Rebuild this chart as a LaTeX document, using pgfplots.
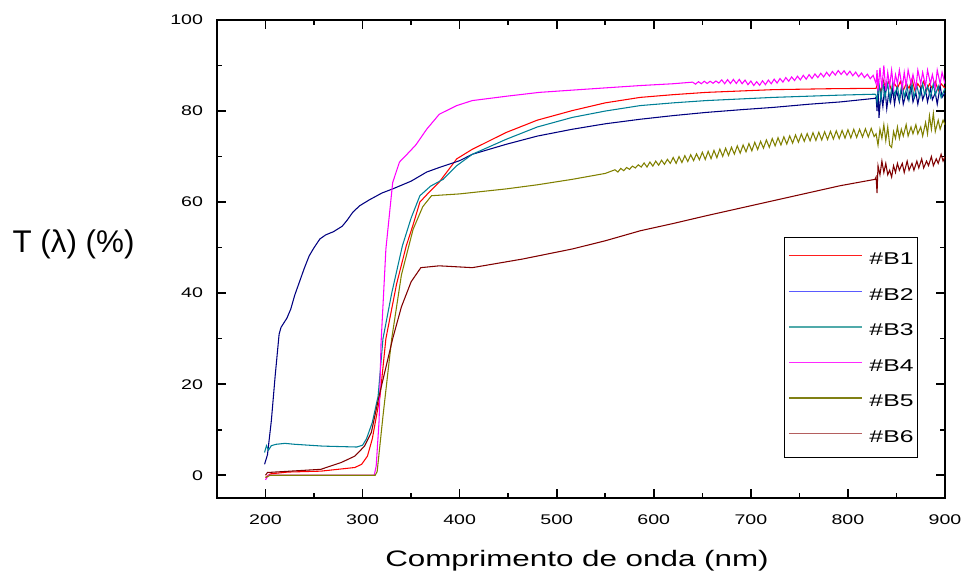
\documentclass[border=0pt]{standalone}
\usepackage{fontspec}
\setmainfont{Liberation Sans}
\newfontfamily\tickfont{Liberation Sans}[FakeStretch=1.4]
\newfontfamily\legfont{Liberation Sans}[FakeStretch=1.45]
\newfontfamily\xlabfont{Liberation Sans}[FakeStretch=1.4]
\usepackage{pgfplots}
\pgfplotsset{compat=1.18}
\definecolor{cB1}{RGB}{255,0,0}
\definecolor{cB2}{RGB}{0,0,128}
\definecolor{cB3}{RGB}{0,128,150}
\definecolor{cB4}{RGB}{255,0,255}
\definecolor{cB5}{RGB}{128,128,0}
\definecolor{cB6}{RGB}{128,0,0}
\definecolor{lBa}{RGB}{255,30,30}
\definecolor{lBb}{RGB}{90,90,255}
\definecolor{lBc}{RGB}{80,170,170}
\definecolor{lBd}{RGB}{255,40,255}
\definecolor{lBe}{RGB}{128,128,20}
\definecolor{lBf}{RGB}{180,95,95}
\begin{document}
\begin{tikzpicture}
\begin{axis}[
  at={(0,0)}, anchor=south west, scale only axis,
  width=546pt, height=358.5pt,
  xmin=150, xmax=900, ymin=-5, ymax=100,
  xtick={200,300,...,900}, ytick={0,20,...,100},
  minor x tick num=1, minor y tick num=1,
  tick align=inside, major tick length=6.5pt, minor tick length=3.5pt,
  axis line style={line width=1.2pt},
  tick style={black, line width=1.2pt},
  /pgf/number format/assume math mode=true,
  tick label style={font=\tickfont\fontsize{10.5}{12}\selectfont},
  xticklabel style={yshift=-9pt},
  yticklabel style={xshift=-7pt},
  xlabel={Comprimento de onda (nm)},
  xlabel style={font=\xlabfont\fontsize{16.8}{20}\selectfont, at={(axis description cs:0.4945,-0.1443)}, anchor=base},
  ylabel={T (λ) (\%)},
  ylabel style={font=\fontsize{23.5}{27}\selectfont, rotate=-90, at={(axis description cs:-0.197,0.531)}, anchor=center},
  legend style={at={(rel axis cs:0.963,0.546)}, anchor=north east, draw=black, line width=0.8pt,
    fill=white, inner xsep=3pt, inner ysep=11pt, row sep=17.5pt,
    font=\legfont\fontsize{12.8}{14}\selectfont,
    nodes={inner sep=0pt, text height=9.2pt, text depth=0pt},
    /tikz/every odd column/.append style={column sep=5pt}},
  legend cell align=left,
  legend image code/.code={\draw[line width=1pt, #1] (0pt,2pt) -- (55pt,2pt);},
  every axis plot/.append style={line width=0.8pt},
]
% B1 (red)
\addplot[cB1, forget plot] coordinates {
(200,-0.5)(205,0.3)(223,0.7)(257,0.9)(292,1.7)(299,2.4)(305,4.2)(310,8)(318,17.4)(324,30)(335,42)(345,50.4)(352,55)(359,60)(370,62.5)(379,64.4)(397,69.5)(413,71.6)(448,75.3)(480,78)(516,80.1)(550,81.8)(586,83)(620,83.6)(654,84.1)(723,84.7)(780,84.9)(828,85)
(829,85)(831,86.5)(834,84)(836,87)(839,85)(842,86.5)(845,84.5)(848,86)(851,85)(854,86.5)(857,84.5)(860,86)(863,85)(866,87)(869,84.5)(872,86)(875,85)(878,86.5)(881,84.5)(884,86)(887,85)(890,86.5)(893,84.5)(896,86)(900,85)};
% B2 (navy)
\addplot[cB2, forget plot] coordinates {
(199,2.4)(202,4.5)(206,12)(210,22)(214,31)(216,32.5)(219,33.5)(222,34.5)(226,36.5)(230,39.5)(235,42.5)(240,45.5)(245,48.2)(250,50)(256,51.9)(262,52.8)(270,53.5)(279,54.7)(284,56)(290,57.8)(297,59.2)(307,60.5)(320,62)(331,62.9)(350,64.6)(366,66.6)(379,67.6)(400,69.1)(413,70.5)(448,72.7)(480,74.5)(516,76)(550,77.2)(586,78.2)(620,79)(654,79.7)(690,80.3)(723,80.8)(760,81.5)(792,82)(828,82.8)
(829,83)(830,80)(831,85)(832,78.5)(834,84)(836,81)(838,85.5)(840,80.5)(842,84)(844,82)(846,85)(848,81.5)(850,84.5)(853,82)(855,85)(857,81.5)(860,84)(862,82.5)(865,85.5)(867,82)(870,84)(872,81.5)(875,85)(877,82.5)(880,84.5)(882,82)(885,85)(887,82.5)(890,84)(892,81.5)(895,85.5)(897,83)(900,84)};
% B3 (teal)
\addplot[cB3, forget plot] coordinates {
(199,5)(201,6.5)(203,5.5)(206,6.5)(211,6.8)(220,7)(230,6.8)(259,6.4)(294,6.2)(300,6.6)(304,8)(310,11.6)(316,17.4)(321,30)(330,40)(341,50.4)(350,56.5)(359,61.4)(370,63.5)(383,65)(397,68)(413,70.5)(448,73.8)(480,76.5)(516,78.6)(550,80)(586,81.2)(620,81.8)(654,82.3)(723,83)(792,83.5)(828,83.7)
(829,83.5)(830,82)(832,86)(834,82.5)(836,86.5)(838,83)(841,86)(843,82.5)(846,86)(848,83.5)(851,85.5)(853,82.5)(856,86)(858,83)(861,85.5)(863,82.5)(866,86)(868,83)(871,85.5)(874,83)(877,86)(879,83.5)(882,85.5)(885,83)(888,86)(890,83.5)(893,85.5)(896,83)(900,85)};
% B4 (magenta)
\addplot[cB4, forget plot] coordinates {
(200,-1)(203,0)(210,0)(312,0)(314,2)(317,12)(319,29)(324,49.7)(331,64.3)(338,68.8)(348,71)(355,72.6)(366,76)(379,79.3)(397,81.2)(413,82.3)(450,83.3)(482,84.1)(530,84.8)(586,85.6)(620,86)
(640,86.35)(643,85.9)(646,86.45)(649,86.0)(652,86.55)(655,86.05)(658,86.55)(661,86.1)(664,86.6)(667,86.15)(670,86.85)(673,86.0)(676,86.9)(679,86.05)(682,86.95)(685,86.05)(688,86.95)(691,86.0)(694,86.8)(697,85.8)(700,86.6)(703,85.6)(706,86.45)(709,85.65)(712,86.65)(715,85.8)(718,86.8)(721,86.0)(724,87.0)(727,86.15)(730,87.15)(733,86.35)(736,87.35)(739,86.55)(742,87.5)(745,86.7)(748,87.65)(751,86.85)(754,87.85)(757,87.0)(760,88.0)(763,87.15)(766,88.15)(769,87.35)(772,88.3)(775,87.5)(778,88.5)(781,87.7)(784,88.7)(787,87.9)(790,88.9)(793,88.05)(796,88.85)(799,87.9)(802,88.75)(805,87.75)(808,88.55)(811,87.55)(814,88.35)(817,87.35)(820,88.1)(823,87.1)(826,87.85)
(829,86)(830,89)(831,84.5)(833,89.5)(835,85)(837,90)(839,84.5)(841,88.5)(843,85.5)(845,89)(847,85)(849,88)(851,86)(853,89)(856,85)(858,88.5)(860,85.5)(862,89)(865,86)(867,88)(870,85)(872,89)(875,86)(877,88.5)(880,85.5)(882,89)(885,86)(887,88)(890,85)(892,89)(895,86)(897,88.5)(900,86)};
% B5 (olive)
\addplot[cB5, forget plot] coordinates {
(200,-0.5)(205,0)(313,0)(315,0.8)(321,13)(330,30)(340,44)(352,54)(362,59)(371,61.4)(400,61.8)(413,62.1)(448,62.9)(480,63.8)(516,65)(550,66.3)
(560,67.1)(563,66.6)(566,67.4)(569,66.9)(572,67.6)(575,67.2)(578,67.9)(581,67.5)(584,68.2)(587,67.7)(590,68.6)(593,67.7)(596,68.8)(599,67.9)(602,69.0)(605,68.1)(608,69.2)(611,68.3)(614,69.4)(617,68.5)(620,69.8)(623,68.5)(626,70.0)(629,68.7)(632,70.2)(635,68.9)(638,70.4)(641,69.1)(644,70.6)(647,69.3)(650,70.95)(653,69.35)(656,71.15)(659,69.55)(662,71.35)(665,69.75)(668,71.65)(671,70.05)(674,71.85)(677,70.25)(680,72.05)(683,70.55)(686,72.35)(689,70.75)(692,72.55)(695,71.05)(698,72.85)(701,71.25)(704,73.15)(707,71.55)(710,73.35)(713,71.85)(716,73.65)(719,72.05)(722,73.95)(725,72.35)(728,74.15)(731,72.55)(734,74.35)(737,72.75)(740,74.55)(743,72.95)(746,74.75)(749,73.15)(752,74.95)(755,73.35)(758,75.05)(761,73.45)(764,75.25)(767,73.55)(770,75.35)(773,73.65)(776,75.45)(779,73.75)(782,75.55)(785,73.85)(788,75.65)(791,73.95)(794,75.75)(797,74.05)(800,75.9)(803,74.1)(806,76.0)(809,74.2)(812,76.0)(815,74.3)(818,76.1)(821,74.3)(824,76.2)(827,74.4)
(829,75)(831,72.5)(833,76)(835,74)(837,77)(839,73.5)(841,76.5)(843,72.5)(845,72)(847,75.5)(849,74)(851,76.5)(853,74)(855,76)(857,74.5)(860,77)(862,74.5)(865,76.5)(867,75)(870,77)(872,75)(875,76.5)(877,74.5)(880,77.5)(882,75)(884,79)(886,76)(888,79.5)(890,75.5)(893,78)(895,76)(898,78)(900,77)};
% B6 (maroon)
\addplot[cB6, forget plot] coordinates {
(200,0)(202,0.6)(257,1.3)(278,2.8)(292,4.2)(302,6.4)(309,9.4)(317,17.4)(331,30)(340,37)(350,42.5)(360,45.6)(379,46)(413,45.6)(465,47.5)(516,49.7)(550,51.5)(586,53.7)(620,55.3)(654,57)(723,60.3)(792,63.6)(828,65)
(829,65.5)(830,62)(831,68)(833,66)(835,69)(837,66.5)(839,68.5)(841,66)(843,67)(845,65.5)(847,68)(849,66.5)(851,68.5)(853,67)(856,68.5)(858,66.5)(861,69)(863,67)(866,68.5)(868,67)(871,69)(873,67.5)(876,69.5)(878,67.5)(881,69)(883,68)(886,70)(888,68)(891,69.5)(893,68.5)(896,70.5)(898,69)(900,70)};
\addlegendimage{color=lBa}\addlegendentry{\#B1}
\addlegendimage{color=lBb}\addlegendentry{\#B2}
\addlegendimage{color=lBc}\addlegendentry{\#B3}
\addlegendimage{color=lBd}\addlegendentry{\#B4}
\addlegendimage{color=lBe}\addlegendentry{\#B5}
\addlegendimage{color=lBf}\addlegendentry{\#B6}
\end{axis}
\pgfresetboundingbox
\path[use as bounding box] (-162.75pt,-60.75pt) rectangle (560.25pt,373.5pt);
\end{tikzpicture}
\end{document}
